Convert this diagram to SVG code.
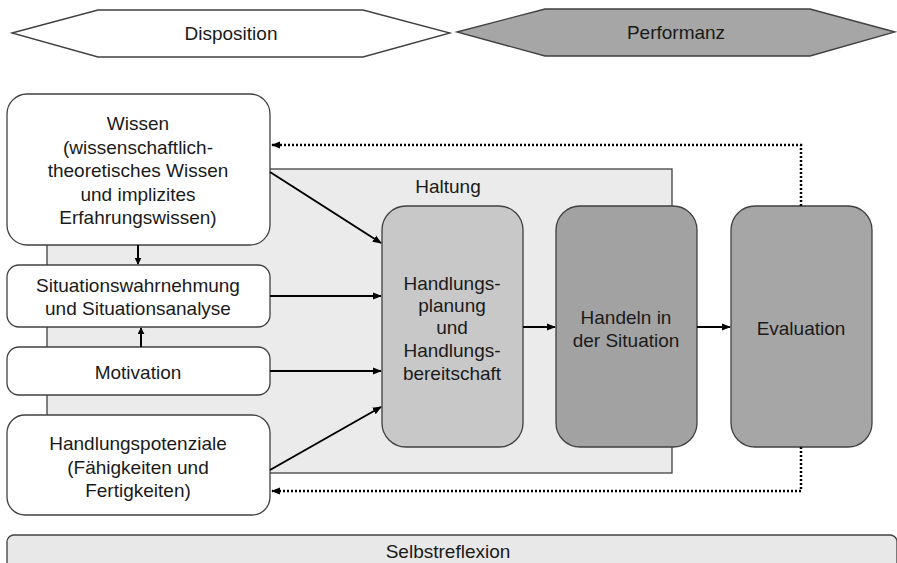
<svg xmlns="http://www.w3.org/2000/svg" width="897" height="563" viewBox="0 0 897 563">
<style>
text{font-family:"Liberation Sans",Arial,sans-serif;font-size:19px;fill:#1a1a1a;text-anchor:middle;dominant-baseline:central}
.box{stroke:#404040;stroke-width:1.3}
.c{stroke:#000;stroke-width:2;fill:none}
.d{stroke:#000;stroke-width:2.5;fill:none;stroke-dasharray:2 2}
</style>
<defs>
<marker id="ah" viewBox="0 0 10 10" refX="9" refY="5" markerWidth="7" markerHeight="7" orient="auto" markerUnits="userSpaceOnUse">
<path d="M0,0 L10,5 L0,10 z" fill="#000"/>
</marker>
<marker id="ah2" viewBox="0 0 10 10" refX="9" refY="5" markerWidth="9" markerHeight="9" orient="auto" markerUnits="userSpaceOnUse">
<path d="M0,1 L10,5 L0,9 z" fill="#000"/>
</marker>
</defs>
<g id="disposition"><polygon class="box" points="12,33 98,10 363,10 450,33 363,57 98,57" fill="#fff"/><text x="231" y="33">Disposition</text></g>
<g id="performanz"><polygon class="box" points="457,32 545,9 810,9 895,32 810,56 545,56" fill="#a6a6a6"/><text x="676" y="32">Performanz</text></g>
<g id="haltung"><rect class="box" x="47" y="169" width="625" height="304" fill="#ebebeb"/><text x="448" y="186">Haltung</text></g>
<g id="selbstreflexion"><rect class="box" x="7" y="535" width="890" height="40" rx="7" fill="#e8e8e8"/><text x="448" y="551">Selbstreflexion</text></g>
<g id="wissen"><rect class="box" x="7" y="94" width="263" height="151" rx="20" fill="#fff"/>
<text x="138" y="123">Wissen</text><text x="138" y="147">(wissenschaftlich-</text><text x="138" y="170">theoretisches Wissen</text><text x="138" y="194">und implizites</text><text x="138" y="217">Erfahrungswissen)</text></g>
<g id="situation"><rect class="box" x="7" y="265" width="263" height="62" rx="12" fill="#fff"/>
<text x="138" y="285">Situationswahrnehmung</text><text x="138" y="308">und Situationsanalyse</text></g>
<g id="motivation"><rect class="box" x="7" y="347" width="263" height="48" rx="12" fill="#fff"/><text x="138" y="372">Motivation</text></g>
<g id="potenziale"><rect class="box" x="7" y="415" width="263" height="100" rx="18" fill="#fff"/>
<text x="138" y="443">Handlungspotenziale</text><text x="138" y="467">(Fähigkeiten und</text><text x="138" y="490">Fertigkeiten)</text></g>
<g id="planung"><rect class="box" x="382" y="206" width="141" height="241" rx="24" fill="#c8c8c8"/>
<text x="452" y="283">Handlungs-</text><text x="452" y="305">planung</text><text x="452" y="327">und</text><text x="452" y="350">Handlungs-</text><text x="452" y="373">bereitschaft</text></g>
<g id="handeln"><rect class="box" x="556" y="206" width="141" height="241" rx="24" fill="#a2a2a2"/>
<text x="626" y="317">Handeln in</text><text x="626" y="340">der Situation</text></g>
<g id="evaluation"><rect class="box" x="731" y="206" width="141" height="241" rx="24" fill="#a6a6a6"/><text x="801" y="328">Evaluation</text></g>
<g id="connectors">
<line class="c" x1="138" y1="245" x2="138" y2="264" marker-end="url(#ah)"/>
<line class="c" x1="141" y1="347" x2="141" y2="328" marker-end="url(#ah)"/>
<line class="c" x1="270" y1="172" x2="381" y2="243" marker-end="url(#ah2)"/>
<line class="c" x1="270" y1="296" x2="381" y2="296" marker-end="url(#ah2)"/>
<line class="c" x1="270" y1="371" x2="381" y2="371" marker-end="url(#ah2)"/>
<line class="c" x1="270" y1="470" x2="381" y2="407" marker-end="url(#ah2)"/>
<line class="c" x1="523" y1="327" x2="555" y2="327" marker-end="url(#ah2)"/>
<line class="c" x1="697" y1="327" x2="730" y2="327" marker-end="url(#ah2)"/>
<polyline class="d" points="801,206 801,145 272,145" marker-end="url(#ah2)"/>
<polyline class="d" points="801,447 801,491 272,491" marker-end="url(#ah2)"/>
</g>
</svg>
